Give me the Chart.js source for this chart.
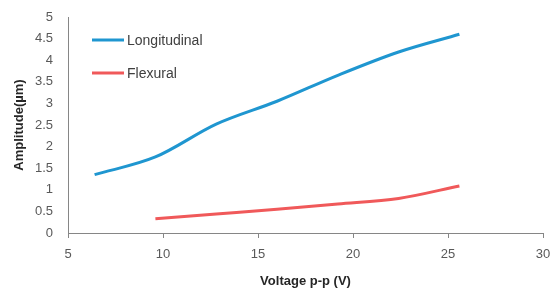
<!DOCTYPE html>
<html>
<head>
<meta charset="utf-8">
<script src="https://cdn.jsdelivr.net/npm/chart.js@4.4.0/dist/chart.umd.min.js"></script>
<style>
  html, body { margin: 0; padding: 0; background: #fff; }
  #wrap { width: 560px; height: 289px; }
</style>
</head>
<body>
<div id="wrap"><canvas id="ampChart" width="560" height="289"></canvas></div>
<script>
// values
var voltsLong = [6.4, 9.6, 12.8, 16, 19.2, 22.4, 25.6];
var ampLong = [1.35, 1.76, 2.52, 3.05, 3.65, 4.19, 4.6];
var voltsFlex = [9.6, 12.8, 16, 19.2, 22.4, 25.6];
var ampFlex = [0.33, 0.44, 0.55, 0.67, 0.8, 1.09];
var seriesNames = ['Longitudinal', 'Flexural'];
var seriesColors = ['#1F96D0', '#F0595A'];

function pts(xs, ys) {
   return xs.map(function (x, i) { return {x: x, y: ys[i]}; });
}

// legend drawn inside the plot, top-left like the original
var insideLegend = {
   id: 'insideLegend',
   afterDraw: function (chart) {
      var ctx = chart.ctx;
      ctx.save();
      ctx.font = '14px "Liberation Sans", Arial, sans-serif';
      ctx.fillStyle = '#404040';
      ctx.textBaseline = 'middle';
      ctx.lineWidth = 3;
      chart.data.datasets.forEach(function (ds, i) {
         var y = 40 + i * 33;
         ctx.strokeStyle = ds.borderColor;
         ctx.beginPath();
         ctx.moveTo(92, y);
         ctx.lineTo(124, y);
         ctx.stroke();
         ctx.fillText(ds.label, 127, y + 1);
      });
      ctx.restore();
   }
};

var tickFont = {family: '"Liberation Sans", Arial, sans-serif', size: 13};
var titleFont = {family: '"Liberation Sans", Arial, sans-serif', size: 13, weight: 'bold'};
var plainNum = function (v) { return String(+v.toFixed(1)); };

var ctx = document.getElementById('ampChart').getContext('2d');
var myChart = new Chart(ctx, {
   type: 'line',
   data: {
      datasets: [{
         label: seriesNames[0],
         data: pts(voltsLong, ampLong),
         borderColor: seriesColors[0],
         borderWidth: 3,
         pointRadius: 0,
         cubicInterpolationMode: 'monotone',
         fill: false
      }, {
         label: seriesNames[1],
         data: pts(voltsFlex, ampFlex),
         borderColor: seriesColors[1],
         borderWidth: 3,
         pointRadius: 0,
         cubicInterpolationMode: 'monotone',
         fill: false
      }]
   },
   plugins: [insideLegend],
   options: {
      responsive: false,
      animation: false,
      layout: {padding: {top: 17, right: 17, left: 8, bottom: 0}},
      plugins: {legend: {display: false}, tooltip: {enabled: false}},
      scales: {
         x: {
            type: 'linear',
            min: 5,
            max: 30,
            ticks: {stepSize: 5, color: '#595959', font: tickFont, padding: 9, callback: plainNum},
            grid: {drawOnChartArea: false, drawTicks: true, tickLength: 5, color: '#868686'},
            border: {color: '#868686'},
            title: {display: true, text: 'Voltage p-p (V)', color: '#262626', font: titleFont, padding: {top: 12, bottom: 0}},
            afterFit: function (s) { s.height = 56; }
         },
         y: {
            min: 0,
            max: 5,
            ticks: {stepSize: 0.5, color: '#595959', font: tickFont, padding: 7, callback: plainNum},
            grid: {display: false},
            border: {color: '#868686'},
            title: {display: true, text: 'Amplitude(µm)', color: '#262626', font: titleFont},
            afterFit: function (s) { s.width = 60; }
         }
      }
   }
});
</script>
</body>
</html>
